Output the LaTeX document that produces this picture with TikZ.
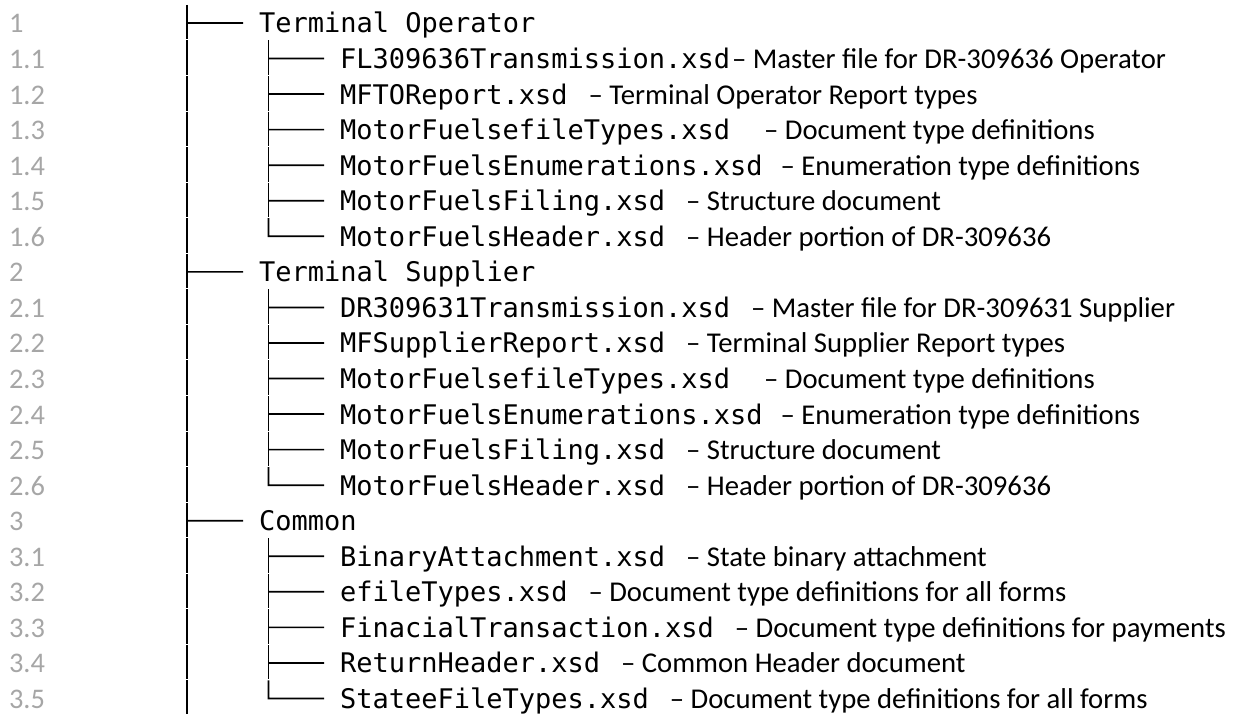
\documentclass[tikz,border=0pt]{standalone}
\usepackage{fontspec}
\setmainfont{Carlito}
\newfontfamily\monof{DejaVu Sans Mono}
\definecolor{numgray}{RGB}{166,166,166}
\tikzset{
  numtxt/.style={anchor=base west, inner sep=0pt, outer sep=0pt, text=numgray, font=\fontsize{28.5}{30}\selectfont},
  monotxt/.style={anchor=base west, inner sep=0pt, outer sep=0pt, font=\monof\fontsize{27.1}{30}\selectfont},
  desctxt/.style={anchor=base west, inner sep=0pt, outer sep=0pt, font=\fontsize{28.8}{30}\selectfont},
  treeline/.style={line width=1.7bp, black},
}
\begin{document}
\begin{tikzpicture}[x=1bp,y=-1bp]
\useasboundingbox (0,0) rectangle (1243,714);
\foreach \k/\n/\lvl/\last/\mono/\desc/\gap in {
 0/1/0/0/Terminal Operator//0,
 1/1.1/1/0/FL309636Transmission.xsd/Master file for DR-309636 Operator/2,
 2/1.2/1/0/MFTOReport.xsd/Terminal Operator Report types/21,
 3/1.3/1/0/MotorFuelsefileTypes.xsd/Document type definitions/34,
 4/1.4/1/0/MotorFuelsEnumerations.xsd/Enumeration type definitions/18,
 5/1.5/1/0/MotorFuelsFiling.xsd/Structure document/21,
 6/1.6/1/1/MotorFuelsHeader.xsd/Header portion of DR-309636/21,
 7/2/0/0/Terminal Supplier//0,
 8/2.1/1/0/DR309631Transmission.xsd/Master file for DR-309631 Supplier/21,
 9/2.2/1/0/MFSupplierReport.xsd/Terminal Supplier Report types/21,
 10/2.3/1/0/MotorFuelsefileTypes.xsd/Document type definitions/34,
 11/2.4/1/0/MotorFuelsEnumerations.xsd/Enumeration type definitions/18,
 12/2.5/1/0/MotorFuelsFiling.xsd/Structure document/21,
 13/2.6/1/1/MotorFuelsHeader.xsd/Header portion of DR-309636/21,
 14/3/0/0/Common//0,
 15/3.1/1/0/BinaryAttachment.xsd/State binary attachment/21,
 16/3.2/1/0/efileTypes.xsd/Document type definitions for all forms/21,
 17/3.3/1/0/FinacialTransaction.xsd/Document type definitions for payments/21,
 18/3.4/1/0/ReturnHeader.xsd/Common Header document/21,
 19/3.5/1/1/StateeFileTypes.xsd/Document type definitions for all forms/21}{
  \pgfmathsetmacro{\bl}{33+35.55*\k}
  \pgfmathsetmacro{\ctop}{\bl-28.1}
  \pgfmathsetmacro{\cbot}{ifthenelse(\k==19,714,\bl+6.5)}
  \pgfmathsetmacro{\cbr}{\bl-10}
  \node[numtxt] (num\k) at (9,\bl) {\n};
  \draw[treeline] (187,\ctop) -- (187,\cbot);
  \ifnum\lvl=0
    \node[monotxt] (txt\k) at (259,\bl) {\mono};
    \coordinate (br\k) at (187,\cbr);
    \draw[treeline] (br\k) -- ([xshift=-16bp,yshift=10bp]txt\k.base west);
  \else
    \node[monotxt] (txt\k) at (340,\bl) {\mono};
    \node[desctxt, xshift=\gap bp] (dsc\k) at (txt\k.base east) {– \desc};
    \coordinate (br\k) at (268.5,\cbr);
    \ifnum\last=1
      \draw[treeline] (268.5,\ctop) -- (br\k) -- ([xshift=-16bp,yshift=10bp]txt\k.base west);
    \else
      \draw[treeline] (268.5,\ctop) -- (268.5,\bl+6.5);
      \draw[treeline] (br\k) -- ([xshift=-16bp,yshift=10bp]txt\k.base west);
    \fi
  \fi
}
\end{tikzpicture}
\end{document}
